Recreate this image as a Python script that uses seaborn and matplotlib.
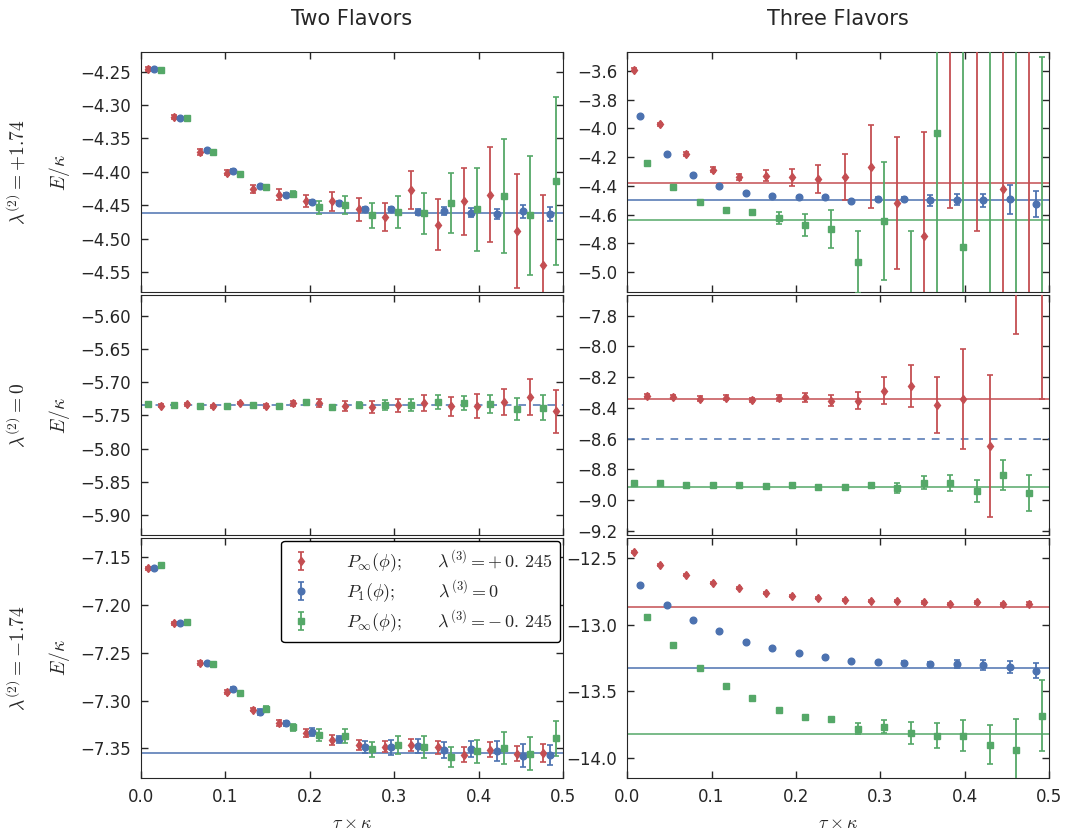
import matplotlib
matplotlib.use('Agg')
from matplotlib import pyplot as plt
from matplotlib.ticker import MultipleLocator
import seaborn as sns

# Euclidean times (in units of 1/kappa), each series is shifted a little
tau_base = [0.0, 0.03125, 0.0625, 0.09375, 0.125, 0.15625, 0.1875, 0.21875,
            0.25, 0.28125, 0.3125, 0.34375, 0.375, 0.40625, 0.4375, 0.46875]

# Two flavors, lambda2 = +1.74
two_pos_red = [-4.246, -4.318, -4.370, -4.401, -4.425, -4.434, -4.443, -4.444,
               -4.456, -4.467, -4.427, -4.479, -4.444, -4.434, -4.488, -4.540]
two_pos_red_err = [0.003, 0.003, 0.004, 0.004, 0.006, 0.008, 0.009, 0.014,
                   0.017, 0.021, 0.029, 0.038, 0.050, 0.071, 0.085, 0.106]
two_pos_blue = [-4.246, -4.320, -4.367, -4.398, -4.421, -4.434, -4.445, -4.446,
                -4.456, -4.456, -4.460, -4.459, -4.461, -4.463, -4.459, -4.463]
two_pos_blue_err = [0.001, 0.001, 0.001, 0.002, 0.002, 0.002, 0.003, 0.003,
                    0.004, 0.004, 0.005, 0.006, 0.007, 0.008, 0.010, 0.010]
two_pos_green = [-4.248, -4.320, -4.370, -4.403, -4.423, -4.433, -4.453, -4.450,
                 -4.465, -4.460, -4.462, -4.447, -4.456, -4.436, -4.465, -4.414]
two_pos_green_err = [0.001, 0.001, 0.001, 0.002, 0.003, 0.004, 0.010, 0.0135,
                     0.019, 0.024, 0.031, 0.045, 0.062, 0.085, 0.089, 0.126]

# Three flavors, lambda2 = +1.74
three_pos_red = [-3.591, -3.971, -4.179, -4.286, -4.339, -4.328, -4.339, -4.353,
                 -4.337, -4.265, -4.518, -4.747, -3.30, -3.20, -4.418, -6.00]
three_pos_red_err = [0.010, 0.012, 0.012, 0.015, 0.022, 0.037, 0.058, 0.099,
                     0.162, 0.286, 0.46, 0.725, 1.25, 1.515, 2.0, 3.0]
three_pos_blue = [-3.915, -4.179, -4.323, -4.397, -4.448, -4.471, -4.474, -4.478,
                  -4.506, -4.492, -4.490, -4.499, -4.495, -4.499, -4.492, -4.525]
three_pos_blue_err = [0.003, 0.003, 0.004, 0.004, 0.005, 0.005, 0.006, 0.007,
                      0.008, 0.012, 0.015, 0.037, 0.037, 0.046, 0.10, 0.089]
three_pos_green = [-4.242, -4.407, -4.513, -4.569, -4.583, -4.625, -4.673, -4.701,
                   -4.930, -4.645, -5.50, -4.033, -4.826, -5.80, -2.50, -6.50]
three_pos_green_err = [0.005, 0.006, 0.007, 0.008, 0.012, 0.043, 0.078, 0.134,
                       0.216, 0.41, 0.785, 1.5, 1.6, 2.5, 3.0, 3.0]

# Two flavors, lambda2 = 0
two_zero_red = [-5.7355, -5.7335, -5.7365, -5.7315, -5.7365, -5.7315, -5.7315, -5.7355,
                -5.737, -5.7345, -5.731, -5.7365, -5.7355, -5.730, -5.7225, -5.744]
two_zero_red_err = [0.002, 0.002, 0.002, 0.002, 0.003, 0.004, 0.0065, 0.0075,
                    0.009, 0.010, 0.012, 0.0145, 0.018, 0.020, 0.027, 0.033]
two_zero_green = [-5.733, -5.734, -5.7365, -5.7355, -5.734, -5.7365, -5.7295, -5.737,
                  -5.734, -5.734, -5.734, -5.7295, -5.731, -5.7325, -5.740, -5.7385]
two_zero_green_err = [0.001, 0.001, 0.001, 0.001, 0.001, 0.001, 0.002, 0.003,
                      0.004, 0.008, 0.0087, 0.011, 0.0105, 0.014, 0.017, 0.019]

# Three flavors, lambda2 = 0
three_zero_red = [-8.324, -8.3305, -8.339, -8.3325, -8.348, -8.335, -8.3305, -8.354,
                  -8.352, -8.287, -8.259, -8.382, -8.341, -8.648, -7.00, -7.00]
three_zero_red_err = [0.012, 0.012, 0.014, 0.014, 0.014, 0.018, 0.028, 0.036,
                      0.056, 0.089, 0.136, 0.183, 0.324, 0.46, 0.92, 1.343]
three_zero_green = [-8.888, -8.892, -8.903, -8.901, -8.901, -8.907, -8.901, -8.916,
                    -8.916, -8.905, -8.920, -8.888, -8.888, -8.942, -8.838, -8.955]
three_zero_green_err = [0.004, 0.004, 0.004, 0.004, 0.004, 0.005, 0.005, 0.006,
                        0.007, 0.012, 0.033, 0.043, 0.054, 0.071, 0.096, 0.119]

# Two flavors, lambda2 = -1.74
two_neg_red = [-7.1614, -7.2193, -7.261, -7.2907, -7.3094, -7.3237, -7.334, -7.3413,
               -7.3465, -7.3483, -7.3465, -7.349, -7.3567, -7.3515, -7.3556, -7.3546]
two_neg_red_err = [0.0015, 0.0015, 0.002, 0.002, 0.002, 0.003, 0.004, 0.005,
                   0.0055, 0.0055, 0.006, 0.0065, 0.0076, 0.008, 0.008, 0.0094]
two_neg_blue = [-7.1611, -7.2193, -7.2602, -7.2876, -7.3119, -7.324, -7.3327, -7.3406,
                -7.349, -7.349, -7.3476, -7.3518, -7.3504, -7.3525, -7.3577, -7.357]
two_neg_blue_err = [0.001, 0.001, 0.001, 0.0015, 0.003, 0.003, 0.004, 0.004,
                    0.0064, 0.0076, 0.0075, 0.0083, 0.0083, 0.0104, 0.012, 0.0106]
two_neg_green = [-7.1587, -7.2179, -7.2616, -7.2918, -7.3088, -7.3281, -7.3358, -7.3372,
                 -7.351, -7.3469, -7.3486, -7.359, -7.353, -7.3499, -7.3556, -7.3396]
two_neg_green_err = [0.001, 0.001, 0.001, 0.0015, 0.003, 0.004, 0.0064, 0.007,
                     0.008, 0.0095, 0.011, 0.0107, 0.012, 0.0166, 0.0175, 0.018]

# Three flavors, lambda2 = -1.74
three_neg_red = [-12.451, -12.550, -12.625, -12.685, -12.725, -12.758, -12.782, -12.800,
                 -12.812, -12.820, -12.820, -12.832, -12.845, -12.832, -12.847, -12.845]
three_neg_red_err = [0.008, 0.008, 0.008, 0.008, 0.008, 0.008, 0.008, 0.008,
                     0.008, 0.008, 0.009, 0.010, 0.010, 0.012, 0.013, 0.015]
three_neg_blue = [-12.700, -12.852, -12.967, -13.050, -13.127, -13.172, -13.209, -13.242,
                  -13.275, -13.279, -13.284, -13.294, -13.294, -13.304, -13.316, -13.346]
three_neg_blue_err = [0.003, 0.003, 0.003, 0.003, 0.003, 0.004, 0.004, 0.005,
                      0.006, 0.008, 0.010, 0.015, 0.029, 0.039, 0.045, 0.055]
three_neg_green = [-12.942, -13.152, -13.324, -13.459, -13.549, -13.639, -13.691, -13.706,
                   -13.781, -13.766, -13.811, -13.833, -13.833, -13.901, -13.938, -13.684]
three_neg_green_err = [0.004, 0.004, 0.005, 0.005, 0.006, 0.007, 0.008, 0.012,
                       0.040, 0.051, 0.082, 0.095, 0.117, 0.144, 0.230, 0.268]

# Horizontal reference lines (red, blue, green)
two_pos_fit = [None, -4.462, None]
three_pos_fit = [-4.377, -4.497, -4.638]
two_zero_fit = [None, -5.735, None]
three_zero_fit = [-8.345, -8.603, -8.912]
two_neg_fit = [None, -7.355, None]
three_neg_fit = [-12.865, -13.322, -13.824]

col_titles = ['Two Flavors', 'Three Flavors']
row_labels = [r'$\lambda^{(2)} = +1.74$', r'$\lambda^{(2)} = 0$', r'$\lambda^{(2)} = -1.74$']
legend_labels = [r'$P_\infty(\phi);\hspace{2.1}\lambda^{(3)} = +\,0.\,245$',
                 r'$P_1(\phi);\hspace{2.55}\lambda^{(3)} = 0$',
                 r'$P_\infty(\phi);\hspace{2.1}\lambda^{(3)} = -\,0.\,245$']

# ---- style ----
sns.set_style('ticks', {'xtick.direction': 'in', 'ytick.direction': 'in'})
plt.rcParams['font.family'] = ['DejaVu Sans']
plt.rcParams['mathtext.fontset'] = 'cm'
pal = sns.color_palette('deep')
red, blue, green = pal[3], pal[0], pal[2]
colors = [red, blue, green]
markers = ['d', 'o', 's']
msizes = [4.5, 4.8, 5]
shifts = [0.0078, 0.0156, 0.0234]

panels = [
    [(two_pos_red, two_pos_red_err), (two_pos_blue, two_pos_blue_err), (two_pos_green, two_pos_green_err)],
    [(three_pos_red, three_pos_red_err), (three_pos_blue, three_pos_blue_err), (three_pos_green, three_pos_green_err)],
    [(two_zero_red, two_zero_red_err), None, (two_zero_green, two_zero_green_err)],
    [(three_zero_red, three_zero_red_err), None, (three_zero_green, three_zero_green_err)],
    [(two_neg_red, two_neg_red_err), (two_neg_blue, two_neg_blue_err), (two_neg_green, two_neg_green_err)],
    [(three_neg_red, three_neg_red_err), (three_neg_blue, three_neg_blue_err), (three_neg_green, three_neg_green_err)],
]
fits = [two_pos_fit, three_pos_fit, two_zero_fit, three_zero_fit, two_neg_fit, three_neg_fit]
ylims = [(-4.58, -4.221), (-5.139, -3.47), (-5.93, -5.569),
         (-9.228, -7.666), (-7.381, -7.130), (-14.152, -12.348)]
ysteps = [0.05, 0.2, 0.05, 0.2, 0.05, 0.5]

f, axes = plt.subplots(3, 2, figsize=(10.76, 8.30), sharex=True)
f.subplots_adjust(left=0.131, right=0.975, top=0.937, bottom=0.0627,
                  wspace=0.152, hspace=0.0125)

handles = []
for i, ax in enumerate(axes.flat):
    row = i // 2
    for k in range(3):
        fv = fits[i][k]
        if fv is not None:
            ls = (0, (5, 4.5)) if (row == 1 and k == 1) else '-'
            ax.axhline(fv, color=colors[k], lw=1.1, ls=ls, zorder=1)
    for k in range(3):
        series = panels[i][k]
        if series is None:
            continue
        E, err = series
        shift = shifts[k]
        if row == 1:
            shift = shifts[2] if k == 0 else shifts[0]
        x = [t + shift for t in tau_base]
        eb = ax.errorbar(x, E, yerr=err, fmt=markers[k], color=colors[k],
                         ms=msizes[k], mec=colors[k], elinewidth=1.3,
                         capsize=2, capthick=1.2, zorder=3)
        if i == 4:
            handles.append(eb)
    ax.set_xlim(0, 0.5)
    ax.set_ylim(*ylims[i])
    ax.xaxis.set_major_locator(MultipleLocator(0.1))
    ax.yaxis.set_major_locator(MultipleLocator(ysteps[i]))
    ax.ticklabel_format(axis='y', useOffset=False)
    ax.tick_params(top=True, right=True, direction='in', length=5,
                   width=1, labelsize=12, pad=7)
    if i % 2 == 0:
        ax.set_ylabel(r'$E/\kappa$', fontsize=14, labelpad=6)
    if row == 0:
        ax.set_title(col_titles[i % 2], fontsize=15, pad=20)
    if row == 2:
        ax.set_xlabel(r'$\tau\times\kappa$', fontsize=13, labelpad=6)

for r in range(3):
    pos = axes[r, 0].get_position()
    f.text(0.016, (pos.y0 + pos.y1) / 2, row_labels[r], rotation=90,
           ha='center', va='center', fontsize=14)

leg = axes[2, 0].legend(handles, legend_labels, loc='upper right', fontsize=13,
                        frameon=True, fancybox=True, framealpha=1,
                        edgecolor='black', borderaxespad=0.15,
                        handlelength=1.4, handletextpad=1.8, labelspacing=0.2,
                        borderpad=0.4)
leg.get_frame().set_linewidth(1.0)

f.savefig('out.png', dpi=100)
